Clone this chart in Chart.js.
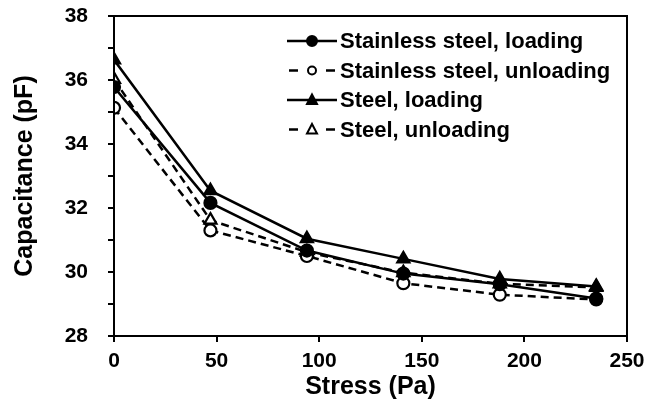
<!DOCTYPE html>
<html>
<head>
<meta charset="utf-8">
<script src="https://cdn.jsdelivr.net/npm/chart.js@4"></script>
<style>
  html, body { margin: 0; padding: 0; background: #fff; }
  #wrap { width: 660px; height: 410px; }
</style>
</head>
<body>
<div id="wrap"><canvas id="grafico" width="660" height="410"></canvas></div>
<script>
const stress = [0, 47, 94, 141, 188, 235];
const ssLoading = [35.78, 32.16, 30.67, 29.95, 29.62, 29.17];
const ssUnloading = [35.13, 31.30, 30.50, 29.65, 29.29, 29.14];
const steelLoading = [36.63, 32.54, 31.04, 30.41, 29.78, 29.55];
const steelUnloading = [36.02, 31.62, 30.62, 29.98, 29.63, 29.52];
const xTicks = [0, 50, 100, 150, 200, 250];

const fonte = '"Liberation Sans", Arial, sans-serif';

function pontos(vals) {
    return vals.map((v, i) => ({ x: stress[i], y: v }));
}

function serie(label, vals, style, filled, dashed) {
    return {
        label,
        data: pontos(vals),
        borderColor: '#000',
        borderWidth: 2.5,
        borderDash: dashed ? [8, 5] : [],
        pointStyle: style,
        pointRadius: style === 'triangle' ? 7 : 6,
        pointBorderWidth: 2.2,
        pointBorderColor: '#000',
        pointBackgroundColor: filled ? '#000' : '#fff',
        fill: false,
        tension: 0
    };
}

// legenda desenhada dentro da área do gráfico
const legendaInterna = {
    id: 'legendaInterna',
    afterDraw(chart) {
        const ctx = chart.ctx;
        const area = chart.chartArea;
        const x0 = area.left + 173;
        const y0 = area.top + 25;
        ctx.save();
        chart.data.datasets.forEach((ds, i) => {
            const y = y0 + i * 29.5;
            ctx.strokeStyle = '#000';
            ctx.lineWidth = 2.5;
            ctx.setLineDash([]);
            ctx.beginPath();
            if (ds.borderDash.length) {
                ctx.moveTo(x0 + 2, y); ctx.lineTo(x0 + 11, y);
                ctx.moveTo(x0 + 39, y); ctx.lineTo(x0 + 48, y);
            } else {
                ctx.moveTo(x0, y); ctx.lineTo(x0 + 50, y);
            }
            ctx.stroke();
            ctx.fillStyle = ds.pointBackgroundColor;
            ctx.lineWidth = 2;
            ctx.beginPath();
            if (ds.pointStyle === 'triangle') {
                ctx.moveTo(x0 + 25, y - 5.5);
                ctx.lineTo(x0 + 30, y + 4);
                ctx.lineTo(x0 + 20, y + 4);
                ctx.closePath();
            } else {
                const r = ds.pointBackgroundColor === '#000' ? 5 : 4;
                ctx.arc(x0 + 25, y, r, 0, Math.PI * 2);
            }
            ctx.fill();
            ctx.stroke();
            ctx.fillStyle = '#000';
            ctx.font = 'bold 22px ' + fonte;
            ctx.textAlign = 'left';
            ctx.textBaseline = 'middle';
            ctx.fillText(ds.label, x0 + 53, y + 1);
        });
        // moldura do gráfico
        ctx.lineWidth = 2;
        ctx.strokeRect(area.left, area.top, area.right - area.left, area.bottom - area.top);
        ctx.restore();
    }
};

new Chart(document.getElementById('grafico'), {
    type: 'line',
    data: {
        datasets: [
            serie('Stainless steel, loading', ssLoading, 'circle', true, false),
            serie('Stainless steel, unloading', ssUnloading, 'circle', false, true),
            serie('Steel, loading', steelLoading, 'triangle', true, false),
            serie('Steel, unloading', steelUnloading, 'triangle', false, true)
        ]
    },
    options: {
        responsive: false,
        animation: false,
        devicePixelRatio: 1,
        layout: { padding: { top: 0, right: 33, left: 0, bottom: 0 } },
        plugins: {
            legend: { display: false },
            tooltip: { enabled: false }
        },
        scales: {
            x: {
                type: 'linear',
                min: 0,
                max: 250,
                afterBuildTicks: scale => { scale.ticks = xTicks.map(v => ({ value: v })); },
                afterFit: scale => { scale.height = 74; },
                ticks: { color: '#000', font: { family: fonte, size: 21, weight: 'bold' }, padding: 7, maxRotation: 0 },
                grid: { drawOnChartArea: false, drawTicks: true, tickLength: 6, color: '#000', lineWidth: 2 },
                border: { display: true, color: '#000', width: 2 },
                title: { display: true, text: 'Stress (Pa)', color: '#000', font: { family: fonte, size: 25, weight: 'bold', lineHeight: 1.2 }, padding: { top: 0, bottom: 8 } }
            },
            y: {
                min: 28,
                max: 38,
                ticks: {
                    stepSize: 1,
                    color: '#000',
                    font: { family: fonte, size: 21, weight: 'bold' },
                    padding: 20,
                    callback: v => (v % 2 === 0 ? v : '')
                },
                afterFit: scale => {
                    scale.width = 114;
                    scale.paddingTop = 16;
                    scale.paddingBottom = 0;
                },
                grid: { drawOnChartArea: false, drawTicks: true, tickLength: 6, color: '#000', lineWidth: 2 },
                border: { display: true, color: '#000', width: 2 },
                title: { display: true, text: 'Capacitance (pF)', color: '#000', font: { family: fonte, size: 25, weight: 'bold', lineHeight: 1.2 }, padding: { top: 10, bottom: 0 } }
            }
        }
    },
    plugins: [legendaInterna]
});
</script>
</body>
</html>
